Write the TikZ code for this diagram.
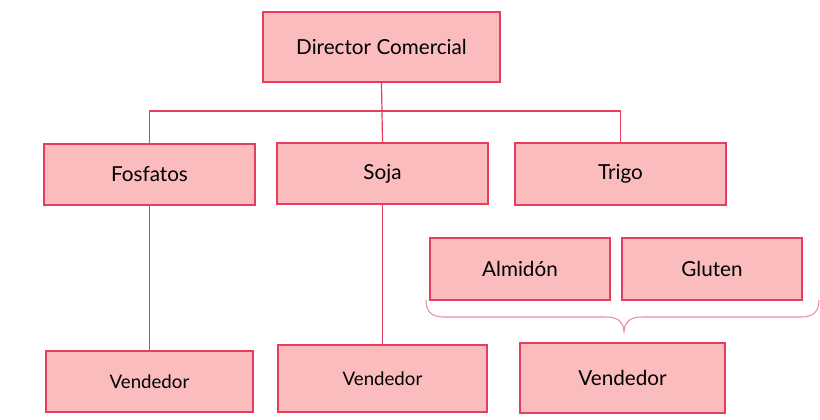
\documentclass[tikz,border=0pt]{standalone}
\usepackage{fontspec}
\setmainfont{Lato}
\definecolor{boxfill}{HTML}{FBBCBD}
\definecolor{boxline}{HTML}{E63D60}
\definecolor{braceline}{HTML}{F08AA0}
\begin{document}
\begin{tikzpicture}[x=0.75pt,y=-0.75pt,
  box/.style={draw=boxline,fill=boxfill,line width=1.1pt,inner sep=0pt,font=\fontsize{15.5}{18}\selectfont},
  smallbox/.style={box,font=\fontsize{14}{16}\selectfont},
  link/.style={draw=boxline,line width=0.9pt}]
\useasboundingbox (0,0) rectangle (820,420);
\node[box,minimum width=237*0.75pt,minimum height=70*0.75pt] (dir) at (381.5,47) {Director Comercial};
\node[box,minimum width=211*0.75pt,minimum height=61*0.75pt] (fos) at (149.5,174.5) {Fosfatos};
\node[box,minimum width=211*0.75pt,minimum height=61*0.75pt] (soja) at (382.5,173.5) {Soja};
\node[box,minimum width=211*0.75pt,minimum height=62*0.75pt] (trigo) at (620.5,174) {Trigo};
\node[box,minimum width=180*0.75pt,minimum height=62*0.75pt] (alm) at (520,269) {Almidón};
\node[box,minimum width=180*0.75pt,minimum height=62*0.75pt] (glu) at (712,269) {Gluten};
\node[smallbox,minimum width=207*0.75pt,minimum height=61*0.75pt] (v1) at (149.5,381.5) {Vendedor};
\node[smallbox,minimum width=209*0.75pt,minimum height=67*0.75pt] (v2) at (382.5,378.5) {Vendedor};
\node[box,minimum width=205*0.75pt,minimum height=70*0.75pt] (v3) at (622.5,378) {Vendedor};
\coordinate (bus) at (381.5,111);
\draw[link] (dir.south) -- (soja.north);
\draw[link] (fos.north) |- (bus) -| (trigo.north);
\draw[link] (fos.south) -- (v1.north);
\draw[link] (soja.south) -- (v2.north);
\coordinate (bl) at (426,300);
\coordinate (br) at (819,300);
\coordinate (bt) at (624,333);
\draw[braceline,line width=0.8pt] (bl) .. controls (426,312) and (432,317) .. (444,317)
  -- (606,317) .. controls (618,317) and (624,322) .. (bt)
  .. controls (624,322) and (630,317) .. (642,317)
  -- (801,317) .. controls (813,317) and (819,312) .. (br);
\end{tikzpicture}
\end{document}
